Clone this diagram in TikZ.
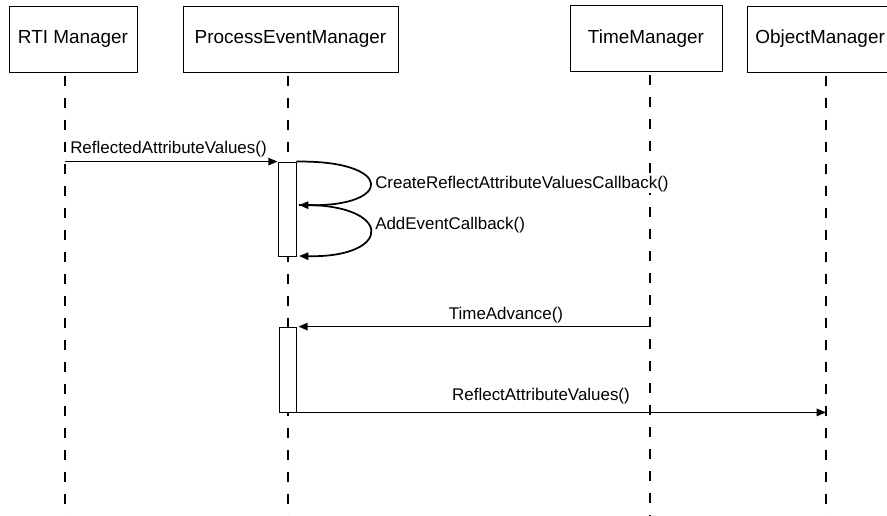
\documentclass[tikz,border=0pt]{standalone}
\usepackage{fontspec}
\setmainfont{Liberation Sans}
\usetikzlibrary{arrows.meta}

\begin{document}
\begin{tikzpicture}[x=0.75pt,y=0.75pt,yscale=-1,xscale=1,
  actor/.style={draw,line width=0.6pt,minimum height=49.5pt,inner sep=0pt,font=\fontsize{14.2}{17}\selectfont},
  lifeline/.style={line width=1.5pt,dash pattern=on 7.5pt off 9pt,dash phase=14pt},
  activation/.style={draw,fill=white,line width=0.6pt,inner sep=0pt},
  msg/.style={line width=1.3pt,-{Triangle[length=7pt,width=5.5pt]}},
  msglabel/.style={inner sep=0pt,fill=white,font=\fontsize{12.7}{15}\selectfont}]
  \useasboundingbox (0,0) rectangle (887,516); %picture is 887 by 516

  % Objects
  \node [actor,minimum width=96pt] (rti) at (73,39) {RTI Manager};
  \node [actor,minimum width=161.25pt] (pem) at (290.5,39) {ProcessEventManager};
  \node [actor,minimum width=114pt] (tm) at (646,38.5) {TimeManager};
  \node [actor,anchor=west,text width=106.5pt,inner xsep=6pt,align=left] (om) at (747,39) {ObjectManager};

  % Lifelines
  \coordinate (rtiEnd) at (65,516);
  \coordinate (pemEnd) at (288,516);
  \coordinate (tmEnd) at (650,516);
  \coordinate (omEnd) at (826,516);
  \draw [lifeline] (rti.south -| rtiEnd) -- (rtiEnd);
  \draw [lifeline] (pem.south -| pemEnd) -- (pemEnd);
  \draw [lifeline] (tm.south -| tmEnd) -- (tmEnd);
  \draw [lifeline] (om.south -| omEnd) -- (omEnd);

  % Activation boxes
  \node [activation,minimum width=13.5pt,minimum height=70.5pt] (act1) at (287,209) {};
  \node [activation,minimum width=12.75pt,minimum height=63.75pt] (act2) at (287.5,369.5) {};

  % Messages
  \draw [msg] (act1.north west -| rtiEnd) -- (act1.north west);
  \coordinate (loopA) at (299,205);
  \coordinate (loopB) at (299,256);
  \draw [msg] (act1.north east) .. controls (394,160) and (394,207) .. (loopA);
  \draw [msg] (loopA) .. controls (394,203) and (394,258) .. (loopB);
  \draw [msg] (act2.north east -| tmEnd) -- ([xshift=1.5pt]act2.north east);
  \draw [msg] (act2.south east) -- (act2.south east -| omEnd);

  % Text Node
  \node [msglabel,anchor=base west] (l1) at (70,154) {ReflectedAttributeValues()};
  % Text Node
  \node [msglabel,anchor=base west] (l2) at (375,189) {CreateReflectAttributeValuesCallback()};
  % Text Node
  \node [msglabel,anchor=base west] (l3) at (375,230) {AddEventCallback()};
  % Text Node
  \node [msglabel,anchor=base] (l4) at (506,319) {TimeAdvance()};
  % Text Node
  \node [msglabel,anchor=base] (l5) at (541,400) {ReflectAttributeValues()};
\end{tikzpicture}
\end{document}
